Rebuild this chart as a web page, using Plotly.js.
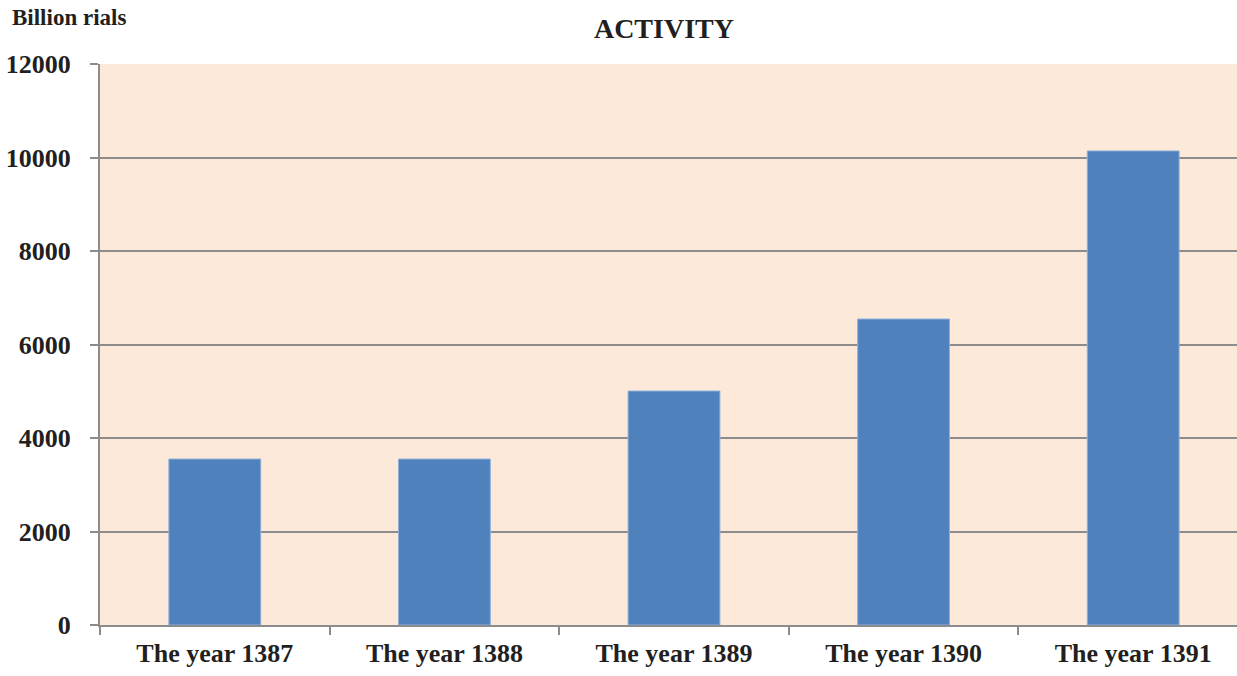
<!DOCTYPE html>
<html>
<head>
<meta charset="utf-8">
<script src="https://cdn.plot.ly/plotly-3.0.1.min.js"></script>
<style>
html,body{margin:0;padding:0;overflow:hidden;background:#fff;}
#chart{width:1248px;height:676px;}
</style>
</head>
<body>
<div id="chart"></div>
<script>
const categories = ["The year 1387", "The year 1388", "The year 1389", "The year 1390", "The year 1391"];
const values = [3550, 3550, 5005, 6545, 10140];
const yTicks = [0, 2000, 4000, 6000, 8000, 10000, 12000];

const font = {family: "Liberation Serif, Times New Roman, serif", color: "#231F20", size: 26, weight: "bold"};

const trace = {
  type: "bar",
  x: categories,
  y: values,
  marker: {color: "#4F81BD", line: {color: "#8FB0DA", width: 1}},
  hoverinfo: "x+y"
};

const layout = {
  width: 1248,
  height: 676,
  margin: {l: 100, r: 0, t: 64, b: 51},
  paper_bgcolor: "#ffffff",
  plot_bgcolor: "#FDE9D9",
  bargap: 0.6,
  showlegend: false,
  title: {
    text: "ACTIVITY",
    font: {family: font.family, color: font.color, size: 28, weight: "bold"},
    xref: "container", x: 0.532, xanchor: "center",
    yref: "container", y: 1 - 28/676, yanchor: "middle"
  },
  xaxis: {
    type: "category",
    showgrid: false,
    showline: true, linecolor: "#8C8C8C", linewidth: 2,
    ticks: "outside", tickson: "boundaries", ticklen: 8, tickwidth: 2, tickcolor: "#8C8C8C",
    tickfont: font,
    ticklabelstandoff: 4,
    fixedrange: true
  },
  yaxis: {
    range: [0, 12000],
    tickvals: yTicks,
    ticktext: yTicks.map(String),
    showgrid: true, gridcolor: "#8C8C8C", gridwidth: 2,
    zeroline: false,
    showline: true, linecolor: "#8C8C8C", linewidth: 2,
    ticks: "outside", ticklen: 8, tickwidth: 2, tickcolor: "#8C8C8C",
    tickfont: font,
    ticklabelstandoff: 14,
    fixedrange: true
  },
  annotations: [{
    text: "Billion rials",
    xref: "paper", yref: "paper",
    x: (10 - 100) / 1148, y: (625 - 18) / 561,
    xanchor: "left", yanchor: "middle",
    showarrow: false,
    font: {family: font.family, color: font.color, size: 23, weight: "bold"}
  }]
};

Plotly.newPlot("chart", [trace], layout, {displayModeBar: false, staticPlot: true});
</script>
</body>
</html>
